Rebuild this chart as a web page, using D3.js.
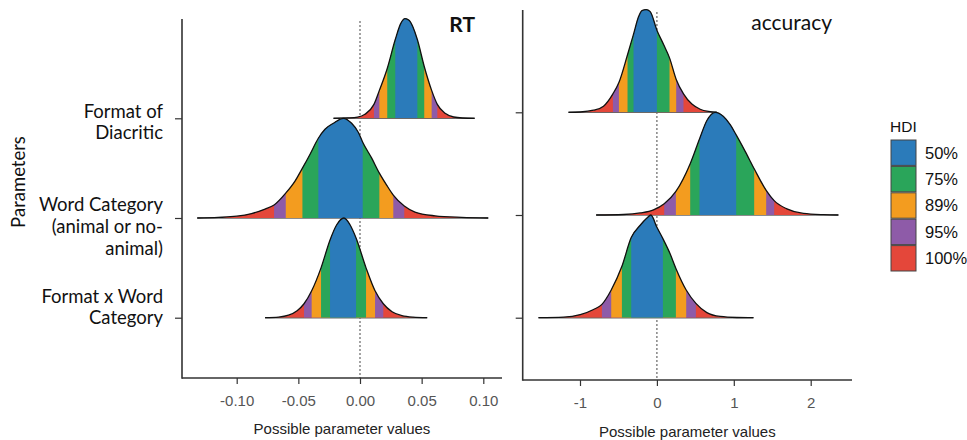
<!DOCTYPE html>
<html><head><meta charset="utf-8">
<script src="https://cdn.jsdelivr.net/npm/d3@7"></script>
<style>body{margin:0;background:#fff}svg{display:block}</style>
</head><body>
<svg id="chart" width="967" height="440"></svg>
<script>
// ---------- DATA ----------
const parameters = ["Format of Diacritic", "Word Category (animal or no-animal)", "Format x Word Category"];
const parameterLabelLines = [["Format of", "Diacritic"], ["Word Category", "(animal or no-", "animal)"], ["Format x Word", "Category"]];
const hdiLevels = ["50%", "75%", "89%", "95%", "100%"];
const rtTicks = [-0.10, -0.05, 0.00, 0.05, 0.10];
const accTicks = [-1, 0, 1, 2];

// density curves: [value, relative height]
const rtFormatDensity = [[-0.0215,0],[-0.010,0.004],[-0.002,0.012],[0.004,0.04],[0.0113,0.14],[0.0157,0.28],[0.0221,0.5],[0.0286,0.79],[0.033,0.95],[0.0365,1.0],[0.040,0.98],[0.0465,0.79],[0.0521,0.52],[0.0581,0.28],[0.0627,0.14],[0.069,0.05],[0.076,0.013],[0.083,0.003],[0.093,0]];
const rtWordDensity = [[-0.132,0],[-0.115,0.006],[-0.100,0.018],[-0.088,0.045],[-0.077,0.09],[-0.0697,0.13],[-0.0602,0.25],[-0.0527,0.37],[-0.0467,0.5],[-0.0405,0.64],[-0.0338,0.80],[-0.0284,0.89],[-0.0216,0.95],[-0.0135,1.0],[-0.0068,0.95],[-0.0014,0.86],[0.0022,0.76],[0.0095,0.6],[0.0157,0.45],[0.0216,0.33],[0.027,0.23],[0.0359,0.12],[0.0446,0.06],[0.0608,0.022],[0.0824,0.006],[0.104,0]];
const rtInterDensity = [[-0.077,0],[-0.066,0.006],[-0.058,0.025],[-0.051,0.07],[-0.0454,0.14],[-0.0392,0.27],[-0.0316,0.5],[-0.0243,0.78],[-0.019,0.93],[-0.013,1.0],[-0.008,0.93],[-0.0032,0.8],[0.0049,0.5],[0.0122,0.27],[0.0189,0.14],[0.026,0.06],[0.034,0.02],[0.043,0.005],[0.0545,0]];
const accFormatDensity = [[-1.15,0],[-0.997,0.003],[-0.824,0.02],[-0.694,0.06],[-0.572,0.18],[-0.494,0.29],[-0.382,0.56],[-0.304,0.76],[-0.239,0.93],[-0.195,0.99],[-0.139,1.0],[-0.087,0.98],[0.0,0.8],[0.087,0.66],[0.164,0.53],[0.251,0.32],[0.346,0.18],[0.455,0.08],[0.563,0.03],[0.671,0.008],[0.78,0]];
const accWordDensity = [[-0.79,0],[-0.434,0.005],[-0.217,0.02],[-0.044,0.05],[0.095,0.11],[0.247,0.23],[0.433,0.5],[0.554,0.74],[0.650,0.92],[0.758,1.0],[0.866,0.96],[0.953,0.88],[1.031,0.78],[1.148,0.62],[1.265,0.45],[1.421,0.24],[1.525,0.14],[1.69,0.06],[1.906,0.015],[2.166,0.003],[2.36,0]];
const accInterDensity = [[-1.54,0],[-1.214,0.005],[-0.997,0.03],[-0.824,0.08],[-0.715,0.13],[-0.594,0.27],[-0.455,0.5],[-0.334,0.78],[-0.217,0.9],[-0.130,0.97],[-0.078,1.0],[0.0,0.88],[0.078,0.77],[0.173,0.62],[0.247,0.48],[0.381,0.27],[0.507,0.14],[0.650,0.05],[0.823,0.012],[1.04,0.002],[1.256,0]];

// HDI intervals [low, high] for 50, 75, 89, 95, 100 %
const rtFormatHdi = [[0.0286,0.0465],[0.0221,0.0521],[0.0157,0.0581],[0.0113,0.0627],[-0.0215,0.093]];
const rtWordHdi = [[-0.0338,0.0022],[-0.0467,0.0157],[-0.0602,0.027],[-0.0697,0.0359],[-0.132,0.104]];
const rtInterHdi = [[-0.0243,-0.0032],[-0.0316,0.0049],[-0.0392,0.0122],[-0.0454,0.0189],[-0.077,0.0545]];
const accFormatHdi = [[-0.304,0.0],[-0.382,0.164],[-0.494,0.251],[-0.572,0.346],[-1.15,0.78]];
const accWordHdi = [[0.554,1.031],[0.433,1.265],[0.247,1.421],[0.095,1.525],[-0.79,2.36]];
const accInterHdi = [[-0.334,0.078],[-0.455,0.247],[-0.594,0.381],[-0.715,0.507],[-1.54,1.256]];

// ---------- STYLE ----------
const hdiColors = ["#2b7bba", "#2aa55a", "#f39c1f", "#8e5ba8", "#e4473a"];
const tickFont = "'Liberation Sans', Arial, sans-serif";
const labelFont = "Lato, 'Open Sans', sans-serif";

const svg = d3.select("#chart");
const defs = svg.append("defs");
let clipId = 0;

const panels = [
  { title: "RT", bold: true, titleX: 475, titleY: 32,
    densities: [rtFormatDensity, rtWordDensity, rtInterDensity],
    hdis: [rtFormatHdi, rtWordHdi, rtInterHdi],
    ticks: rtTicks, fmt: d => d.toFixed(2),
    x: d3.scaleLinear().domain([-0.10, 0.10]).range([236.7, 483.3]),
    y: d3.scalePoint().domain(parameters).range([118.3, 317.7]),
    left: 182, right: 502, top: 19, bottom: 378, titleBase: 434 },
  { title: "accuracy", bold: false, titleX: 832, titleY: 30,
    densities: [accFormatDensity, accWordDensity, accInterDensity],
    hdis: [accFormatHdi, accWordHdi, accInterHdi],
    ticks: accTicks, fmt: d => String(d),
    x: d3.scaleLinear().domain([-1, 2]).range([580, 810.7]),
    y: d3.scalePoint().domain(parameters).range([112.3, 317.7]),
    left: 522.7, right: 852, top: 10, bottom: 380, titleBase: 437 }
];

panels.forEach(p => {
  const g = svg.append("g");
  const step = p.y.step();
  const h = d3.scaleLinear().domain([0, 1]).range([0, step]);

  g.append("line").attr("x1", p.x(0)).attr("x2", p.x(0))
    .attr("y1", p.top + 2).attr("y2", p.bottom)
    .attr("stroke", "#666").attr("stroke-width", 1.2).attr("stroke-dasharray", "2,2");

  parameters.forEach((param, i) => {
    const base = p.y(param);
    const dens = p.densities[i];
    const hdi = p.hdis[i];
    const area = d3.area().x(d => p.x(d[0])).y0(base).y1(d => base - h(d[1])).curve(d3.curveMonotoneX);
    const line = d3.line().x(d => p.x(d[0])).y(d => base - h(d[1])).curve(d3.curveMonotoneX);
    const cg = g.append("g");
    cg.append("line").attr("x1", p.x(hdi[4][0])).attr("x2", p.x(hdi[4][1]))
      .attr("y1", base).attr("y2", base).attr("stroke", "#666").attr("stroke-width", 1.6);
    for (let k = hdiLevels.length - 1; k >= 0; k--) {
      const id = "clip" + (clipId++);
      defs.append("clipPath").attr("id", id).append("rect")
        .attr("x", p.x(hdi[k][0])).attr("width", p.x(hdi[k][1]) - p.x(hdi[k][0]))
        .attr("y", base - step - 10).attr("height", step + 10);
      cg.append("path").datum(dens).attr("d", area)
        .attr("fill", hdiColors[k]).attr("clip-path", `url(#${id})`);
    }
    cg.append("path").datum(dens).attr("d", line)
      .attr("fill", "none").attr("stroke", "#111").attr("stroke-width", 1.3);
  });

  g.append("line").attr("x1", p.left).attr("x2", p.left).attr("y1", p.top).attr("y2", p.bottom + 0.8)
    .attr("stroke", "#333").attr("stroke-width", 1.6);
  g.append("line").attr("x1", p.left).attr("x2", p.right).attr("y1", p.bottom).attr("y2", p.bottom)
    .attr("stroke", "#333").attr("stroke-width", 1.6);

  const xa = g.append("g").attr("transform", `translate(0,${p.bottom})`)
    .call(d3.axisBottom(p.x).tickValues(p.ticks).tickFormat(p.fmt).tickSize(6).tickSizeOuter(0).tickPadding(11));
  xa.select(".domain").remove();
  xa.selectAll(".tick line").attr("stroke", "#333").attr("stroke-width", 1.2);
  xa.selectAll(".tick text").attr("font-family", tickFont).attr("font-size", 15).attr("fill", "#555");

  const ya = g.append("g").attr("transform", `translate(${p.left},0)`)
    .call(d3.axisLeft(p.y).tickFormat("").tickSize(7).tickSizeOuter(0));
  ya.select(".domain").remove();
  ya.selectAll(".tick line").attr("stroke", "#333").attr("stroke-width", 1.2);

  g.append("text").attr("x", (p.left + p.right) / 2).attr("y", p.titleBase)
    .attr("text-anchor", "middle").attr("font-family", tickFont).attr("font-size", 15)
    .attr("fill", "#222").text("Possible parameter values");

  g.append("text").attr("x", p.titleX).attr("y", p.titleY).attr("text-anchor", "end")
    .attr("font-family", labelFont).attr("font-size", 21)
    .attr("font-weight", p.bold ? "bold" : "normal").attr("fill", "#111").text(p.title);
});

const labelBaselines = [[117.7, 139], [211, 233, 255], [302.5, 324]];
parameterLabelLines.forEach((lines, i) => {
  lines.forEach((t, j) => {
    svg.append("text").attr("x", 163).attr("y", labelBaselines[i][j])
      .attr("text-anchor", "end").attr("font-family", labelFont).attr("font-size", 18.5)
      .attr("fill", "#111").text(t);
  });
});
svg.append("text").attr("transform", "translate(25,182) rotate(-90)")
  .attr("text-anchor", "middle").attr("font-family", labelFont).attr("font-size", 18.5)
  .attr("fill", "#111").text("Parameters");

const lg = svg.append("g");
lg.append("text").attr("x", 890).attr("y", 131.5).attr("font-family", tickFont)
  .attr("font-size", 15.5).attr("fill", "#111").text("HDI");
hdiLevels.forEach((lvl, i) => {
  const y0 = 140 + i * 26.4;
  lg.append("rect").attr("x", 891).attr("y", y0).attr("width", 25).attr("height", 25.4)
    .attr("fill", hdiColors[i]).attr("stroke", "#444").attr("stroke-width", 1);
  lg.append("text").attr("x", 925).attr("y", y0 + 18.5).attr("font-family", tickFont)
    .attr("font-size", 16.5).attr("fill", "#111").text(lvl);
});
</script>
</body></html>
